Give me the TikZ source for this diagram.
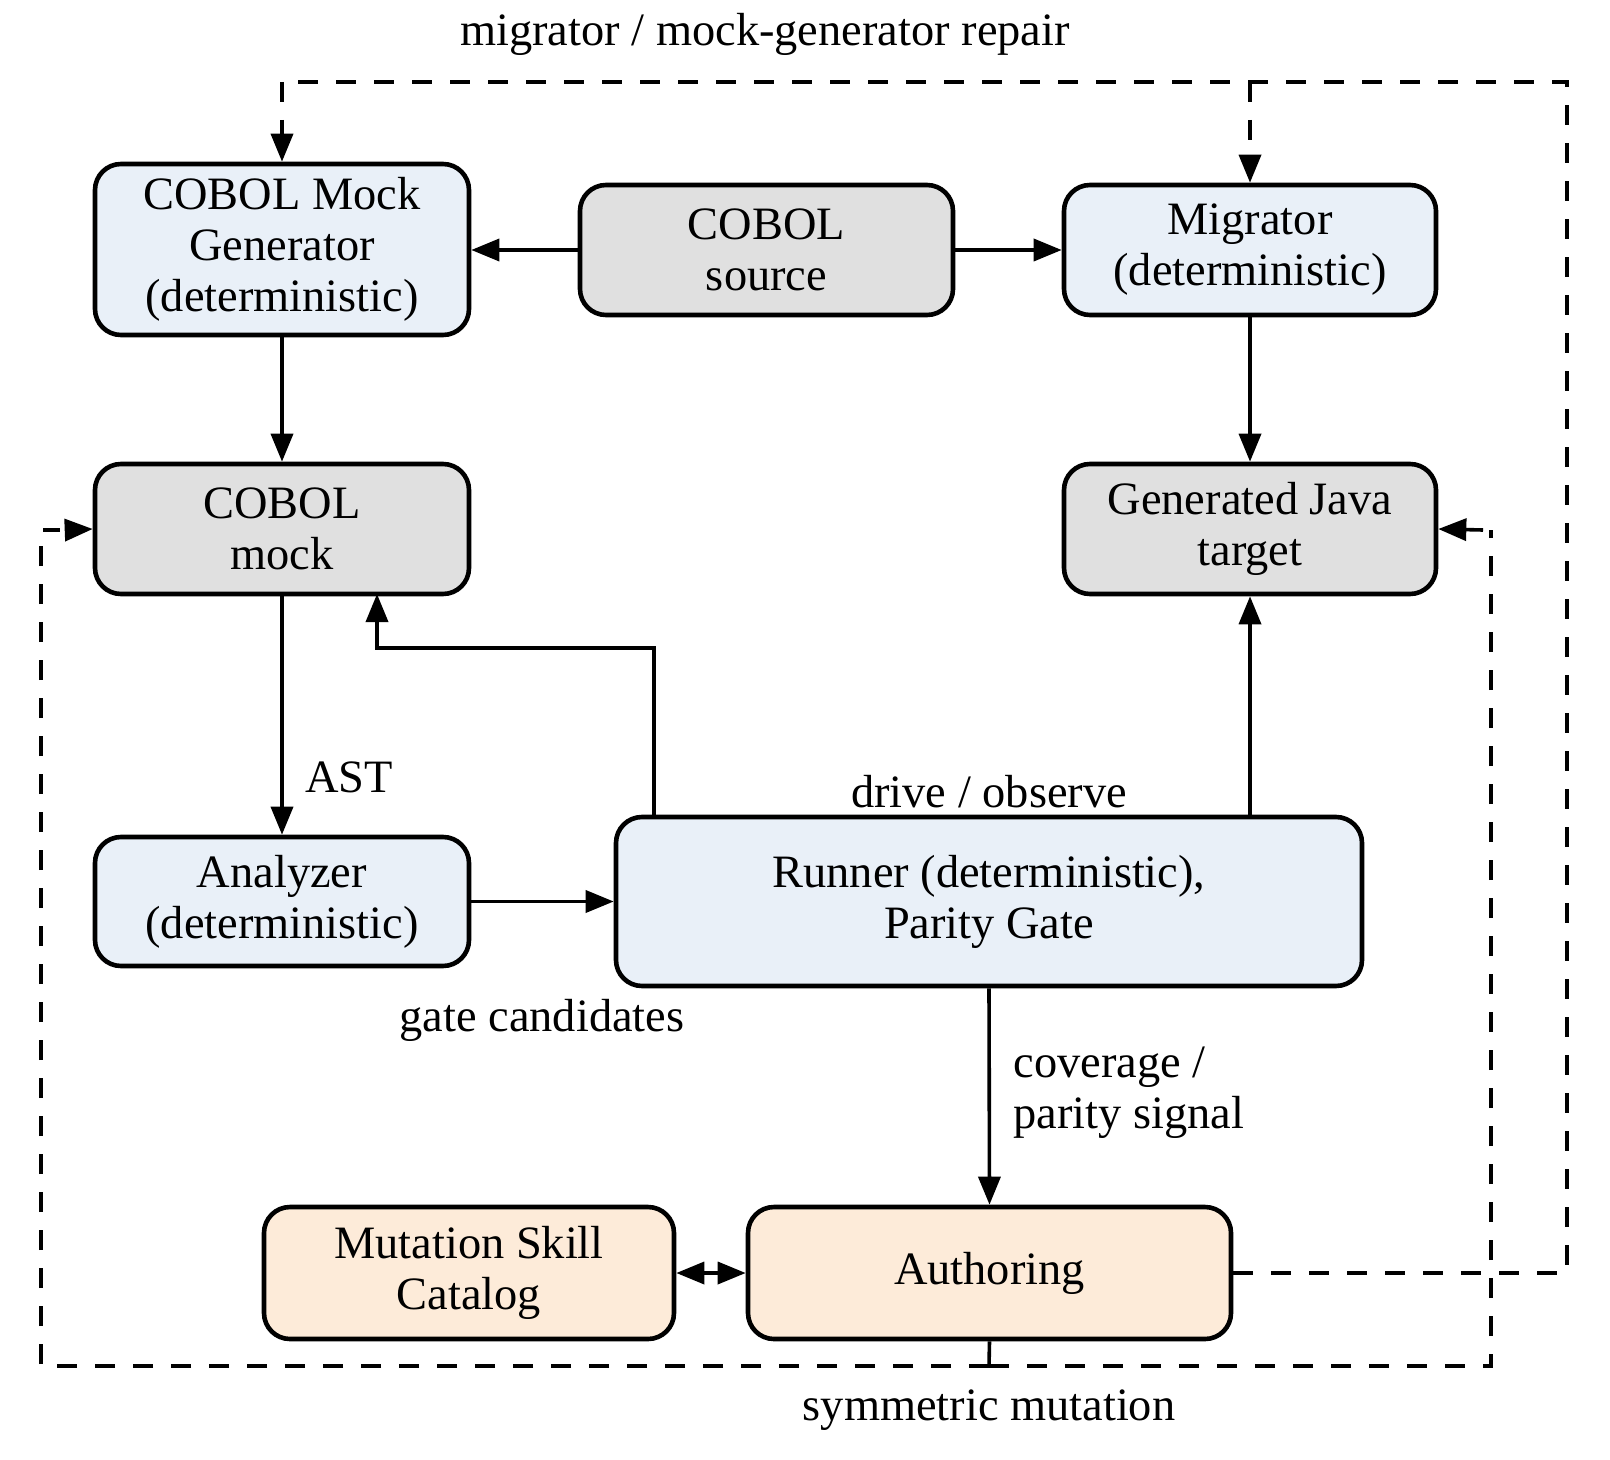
\documentclass[tikz,border=0pt]{standalone}
\usepackage{fontspec}
\setmainfont{Liberation Serif}
\usetikzlibrary{arrows.meta}
\definecolor{bluefill}{HTML}{E9F0F8}
\definecolor{grayfill}{HTML}{E0E0E0}
\definecolor{orangefill}{HTML}{FDEBD9}
\tikzset{
  box/.style={draw=black, line width=2.3pt, rounded corners=13pt, align=center, inner sep=0pt,
    font=\fontsize{23.2}{25.5}\selectfont},
  bluebox/.style={box, fill=bluefill},
  graybox/.style={box, fill=grayfill},
  orangebox/.style={box, fill=orangefill},
  tip/.style={},
  conn/.style={line width=1.8pt, -{Triangle[length=14pt,width=11pt]}},
  dconn/.style={line width=1.8pt, dash pattern=on 10pt off 9pt},
  lbl/.style={font=\fontsize{23.2}{25.5}\selectfont, inner sep=0pt}
}
\begin{document}
\begin{tikzpicture}[x=0.5pt,y=-0.5pt]
\useasboundingbox (0,0) rectangle (1610,1460);
\node[bluebox, minimum width=187pt, minimum height=85.5pt] (mockgen) at (282,249.5) {COBOL Mock\\Generator\\(deterministic)};
\node[graybox, minimum width=186.5pt, minimum height=65pt] (src) at (766.5,250) {COBOL\\source};
\node[bluebox, minimum width=186pt, minimum height=65pt] (mig) at (1250,250) {Migrator\\(deterministic)};
\node[graybox, minimum width=187pt, minimum height=65pt] (mock) at (282,529) {COBOL\\mock};
\node[graybox, minimum width=186pt, minimum height=65pt] (java) at (1250,529) {Generated Java\\target};
\node[bluebox, minimum width=187pt, minimum height=64.5pt] (ana) at (282,901.5) {Analyzer\\(deterministic)};
\node[bluebox, minimum width=373pt, minimum height=84.5pt] (run) at (989,901.5) {Runner (deterministic),\\Parity Gate};
\node[orangebox, minimum width=205pt, minimum height=66pt] (cat) at (469,1273) {Mutation Skill\\Catalog};
\node[orangebox, minimum width=241.5pt, minimum height=66pt] (auth) at (989.5,1273) {Authoring};

% solid connectors
\draw[conn] (src.west) -- (mockgen.east |- src.west);
\draw[conn] (src.east) -- (mig.west);
\draw[conn] (mockgen.south) -- (mock.north);
\draw[conn] (mig.south) -- (java.north);
\draw[conn] (mock.south) -- (ana.north);
\draw[conn] (ana.east) -- (run.west |- ana.east);
\coordinate (r1) at (654,817);
\coordinate (m1) at (377,594);
\draw[conn] (r1) -- (654,648) -- (377,648) -- (m1);
\draw[conn] (java.south |- run.north) -- (java.south);
\draw[conn] (run.south) -- (auth.north);
\draw[line width=1.8pt, {Triangle[length=14pt,width=11pt]}-{Triangle[length=14pt,width=11pt]}] (cat.east) -- (auth.west);

% dashed feedback paths
\coordinate (tl) at (282,82);
\coordinate (tm) at (1250,82);
\draw[dconn] (auth.east) -- (1567,1273) -- (1567,82) -- (tl);
\draw[dconn] (tl) -- (282,136);
\draw[conn] (282,136) -- (mockgen.north);
\draw[dconn] (tm) -- (1250,156);
\draw[conn] (1250,156) -- (mig.north);
\coordinate (bm) at (989,1366);
\draw[line width=1.8pt] (auth.south) -- (bm);
\draw[dconn] (bm) -- (41,1366) -- (41,530) -- (60,530);
\draw[conn] (66,530) -- (mock.west);
\draw[dconn] (bm) -- (1491,1366) -- (1491,530);
\draw[conn] (1483,530) -- (java.east);

% labels
\node[lbl] (l1) at (765,34) {migrator / mock-generator repair};
\node[lbl] (l2) at (349,777) {AST};
\node[lbl] (l3) at (989,792) {drive / observe};
\node[lbl] (l4) at (542,1020) {gate candidates};
\node[lbl, align=left, anchor=west] (l5) at (1013,1093) {coverage /\\parity signal};
\node[lbl] (l6) at (989,1410) {symmetric mutation};
\end{tikzpicture}
\end{document}
